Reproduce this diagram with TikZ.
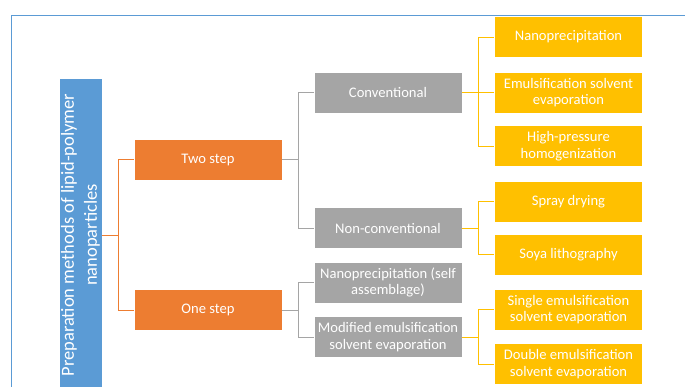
\documentclass[tikz,border=0pt]{standalone}
\usepackage{fontspec}
\setmainfont{Carlito}
\definecolor{rootblue}{HTML}{5B9BD5}
\definecolor{steporange}{HTML}{ED7D31}
\definecolor{kindgray}{HTML}{A5A5A5}
\definecolor{methodgold}{HTML}{FFC000}

\begin{document}
\begin{tikzpicture}[x=1pt,y=-1pt,
    box/.style={fill=#1,draw=white,line width=0.6pt,text=white,align=center,
      minimum width=148pt,minimum height=41pt,inner sep=2pt,
      font=\fontsize{14.6}{16.5}\selectfont},
    link/.style={draw=#1,line width=1pt}]
      \useasboundingbox (0,0) rectangle (685,386);
      \draw[rootblue,line width=0.8pt] (11,392) |- (690,15);
      \draw
        (80.5,235) node[box=rootblue,rotate=90,minimum width=314pt,minimum height=43pt,
          inner sep=0pt,font=\fontsize{18.5}{23}\selectfont] (root){Preparation methods of lipid-polymer\\nanoparticles}
        (208,159.5) node[box=steporange] (two){Two step}
        (208,310) node[box=steporange] (one){One step}
        (388,92.5) node[box=kindgray] (conv){Conventional}
        (388,228) node[box=kindgray] (nonconv){Non-conventional}
        (388,282.5) node[box=kindgray] (selfasm){Nanoprecipitation (self\\assemblage)}
        (388,337) node[box=kindgray] (modemul){Modified emulsification\\solvent evaporation}
        (568.5,37) node[box=methodgold] (nanopr){Nanoprecipitation}
        (568.5,92.5) node[box=methodgold] (emulsv){Emulsification solvent\\evaporation}
        (568.5,146) node[box=methodgold] (highpr){High-pressure\\homogenization}
        (568.5,201.5) node[box=methodgold] (spray){Spray drying}
        (568.5,254.5) node[box=methodgold] (soya){Soya lithography}
        (568.5,309.5) node[box=methodgold] (single){Single emulsification\\solvent evaporation}
        (568.5,364) node[box=methodgold] (double){Double emulsification\\solvent evaporation};
      \begin{scope}[link=steporange]
        \draw (root.south) -- ++(16,0) |- (two.west);
        \draw (root.south) -- ++(16,0) |- (one.west);
      \end{scope}
      \begin{scope}[link=kindgray]
        \draw (two.east) -- ++(16,0) |- (conv.west);
        \draw (two.east) -- ++(16,0) |- (nonconv.west);
        \draw (one.east) -- ++(16,0) |- (selfasm.west);
        \draw (one.east) -- ++(16,0) |- (modemul.west);
      \end{scope}
      \begin{scope}[link=methodgold]
        \draw (conv.east) -- ++(16,0) |- (nanopr.west);
        \draw (conv.east) -- ++(16,0) |- (emulsv.west);
        \draw (conv.east) -- ++(16,0) |- (highpr.west);
        \draw (nonconv.east) -- ++(16,0) |- (spray.west);
        \draw (nonconv.east) -- ++(16,0) |- (soya.west);
        \draw (modemul.east) -- ++(16,0) |- (single.west);
        \draw (modemul.east) -- ++(16,0) |- (double.west);
      \end{scope}
    \end{tikzpicture}
\end{document}
